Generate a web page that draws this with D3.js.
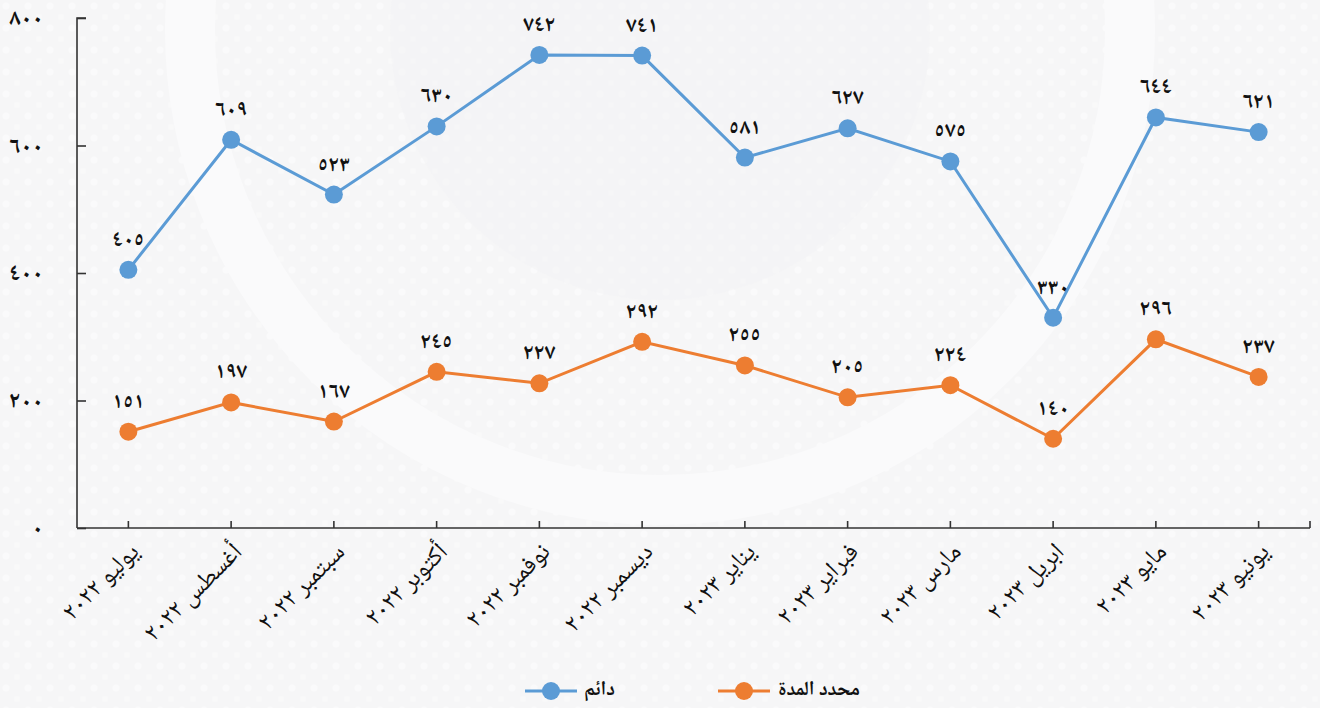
<!DOCTYPE html>
<html lang="ar">
<head>
<meta charset="utf-8">
<script src="https://cdn.jsdelivr.net/npm/d3@7"></script>
<style>
  html, body { margin: 0; padding: 0; background: #f6f6f7; }
  svg { display: block; font-family: "Noto Naskh Arabic", "Noto Sans Arabic", "DejaVu Sans", sans-serif; }
</style>
</head>
<body>
<svg id="chart"></svg>
<script>
// months (x categories)
const months = ["يوليو ٢٠٢٢", "أغسطس ٢٠٢٢", "سبتمبر ٢٠٢٢", "أكتوبر ٢٠٢٢", "نوفمبر ٢٠٢٢", "ديسمبر ٢٠٢٢",
                "يناير ٢٠٢٣", "فبراير ٢٠٢٣", "مارس ٢٠٢٣", "ابريل ٢٠٢٣", "مايو ٢٠٢٣", "يونيو ٢٠٢٣"];
// series
const permanent = [405, 609, 523, 630, 742, 741, 581, 627, 575, 330, 644, 621];   // دائم
const fixedTerm = [151, 197, 167, 245, 227, 292, 255, 205, 224, 140, 296, 237];   // محدد المدة
const yTicks = [0, 200, 400, 600, 800];

const seriesNames = ["دائم", "محدد المدة"];
const seriesColors = ["#5b9bd5", "#ed7d31"];

const W = 1320, H = 708;
const margin = {top: 18, right: 10, bottom: 180, left: 77};

const arabic = d3.formatLocale({
  decimal: ".", thousands: ",", grouping: [3], currency: ["", ""],
  numerals: ["٠","١","٢","٣","٤","٥","٦","٧","٨","٩"]
});
const fmt = arabic.format("d");

const svg = d3.select("#chart").attr("width", W).attr("height", H);

// faint background decoration
const defs = svg.append("defs");
const pat = defs.append("pattern").attr("id", "dots")
  .attr("width", 22).attr("height", 22).attr("patternUnits", "userSpaceOnUse");
pat.append("circle").attr("cx", 6).attr("cy", 6).attr("r", 3.5).attr("fill", "#fcfcfc");
pat.append("circle").attr("cx", 17).attr("cy", 17).attr("r", 3).attr("fill", "#fafafa");
svg.append("rect").attr("width", W).attr("height", H).attr("fill", "#f6f6f7");
svg.append("rect").attr("width", W).attr("height", H).attr("fill", "url(#dots)").attr("opacity", 0.7);
svg.append("circle").attr("cx", 660).attr("cy", 30).attr("r", 470)
  .attr("fill", "none").attr("stroke", "#fafafb").attr("stroke-width", 50);
svg.append("circle").attr("cx", 660).attr("cy", 30).attr("r", 270)
  .attr("fill", "#f4f4f5").attr("opacity", 0.6);

const innerW = W - margin.left - margin.right;
const innerH = 528 - margin.top;

const chart = svg.append("g").attr("transform", `translate(${margin.left},${margin.top})`);

const x = d3.scaleBand().domain(months).range([0, innerW]);
const cx = d => x(d) + x.bandwidth() / 2;
const y = d3.scaleLinear().domain([0, 800]).range([innerH, 0]);

// y axis: ticks inside, labels far left
const yAxis = chart.append("g")
  .call(d3.axisRight(y).tickValues(yTicks).tickSize(9).tickFormat(""));
yAxis.select(".domain").attr("stroke", "#333").attr("stroke-width", 1.6).attr("d", `M9,0H0V${innerH}`);
yAxis.selectAll(".tick line").attr("stroke", "#333").attr("stroke-width", 1.6);
chart.append("g").selectAll("text").data(yTicks).join("text")
  .attr("x", -34).attr("y", d => y(d) + 7)
  .attr("text-anchor", "end")
  .attr("font-size", 23).attr("font-weight", "bold").attr("fill", "#111")
  .text(d => fmt(d));

// x axis: ticks pointing up at category centres
const xAxis = chart.append("g").attr("transform", `translate(0,${innerH})`);
xAxis.append("line").attr("x1", 0).attr("x2", innerW)
  .attr("stroke", "#333").attr("stroke-width", 1.6);
xAxis.selectAll(".tk").data(months).join("line").attr("class", "tk")
  .attr("x1", d => cx(d)).attr("x2", d => cx(d))
  .attr("y1", 0).attr("y2", -7)
  .attr("stroke", "#333").attr("stroke-width", 1.6);
xAxis.append("line").attr("x1", innerW).attr("x2", innerW).attr("y1", 0).attr("y2", -7)
  .attr("stroke", "#333").attr("stroke-width", 1.6);
xAxis.selectAll(".lbl").data(months).join("text").attr("class", "lbl")
  .attr("transform", d => `translate(${cx(d) + 12},${25}) rotate(-45)`)
  .attr("text-anchor", "end")
  .attr("font-size", 25).attr("fill", "#111")
  .text(d => d);

// lines
const line = d3.line().x((d, i) => cx(months[i])).y(d => y(d));
[permanent, fixedTerm].forEach((vals, si) => {
  const g = chart.append("g");
  g.append("path").datum(vals)
    .attr("d", line).attr("fill", "none")
    .attr("stroke", seriesColors[si]).attr("stroke-width", 3);
  g.selectAll("circle").data(vals).join("circle")
    .attr("cx", (d, i) => cx(months[i])).attr("cy", d => y(d))
    .attr("r", 9).attr("fill", seriesColors[si]);
  g.selectAll("text").data(vals).join("text")
    .attr("x", (d, i) => cx(months[i])).attr("y", d => y(d) - 24)
    .attr("text-anchor", "middle")
    .attr("font-size", 22).attr("font-weight", "bold").attr("fill", "#111")
    .text(d => fmt(d));
});

// legend
const legendPos = [{x: 525, tx: 584}, {x: 718, tx: 778}];
const legend = svg.append("g");
seriesNames.forEach((name, i) => {
  const p = legendPos[i];
  legend.append("line").attr("x1", p.x).attr("x2", p.x + 52)
    .attr("y1", 691).attr("y2", 691)
    .attr("stroke", seriesColors[i]).attr("stroke-width", 3);
  legend.append("circle").attr("cx", p.x + 26).attr("cy", 691).attr("r", 9)
    .attr("fill", seriesColors[i]);
  legend.append("text").attr("x", p.tx).attr("y", 695)
    .attr("text-anchor", "start")
    .attr("font-size", 20).attr("font-weight", "bold").attr("fill", "#111")
    .text(name);
});
</script>
</body>
</html>
